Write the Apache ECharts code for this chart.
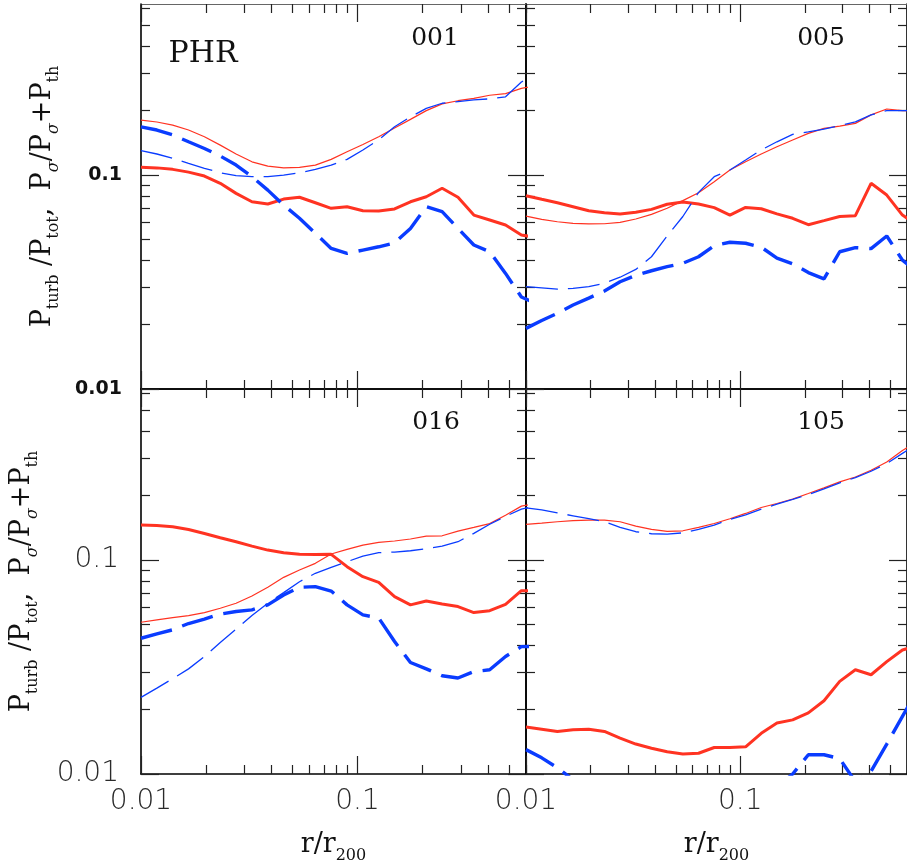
<!DOCTYPE html>
<html>
<head>
<meta charset="utf-8">
<script src="https://cdn.jsdelivr.net/npm/echarts@6/dist/echarts.min.js"></script>
<style>html,body{margin:0;padding:0;background:#fff}#c{width:907px;height:866px}</style>
</head>
<body>
<div id="c"></div>
<script>
// radial bins r/r200
const r = [0.0100,0.01184,0.01401,0.01658,0.01963,0.02323,0.02749,0.03254,0.03852,0.04559,0.05395,0.06386,0.07558,0.08947,0.1059,0.1253,0.1483,0.1756,0.2078,0.2459,0.2911,0.3445,0.4078,0.4827,0.5713,0.6761];

// panel 001
const thickRed001  = [0.1087,0.108,0.1063,0.1032,0.0989,0.0915,0.0821,0.075,0.0732,0.0772,0.0787,0.0742,0.0699,0.0711,0.0681,0.0679,0.0694,0.075,0.0792,0.0867,0.0787,0.065,0.0616,0.0584,0.0524,0.051];
const thinRed001   = [0.1807,0.177,0.171,0.1623,0.151,0.138,0.1254,0.1153,0.110,0.108,0.1087,0.1113,0.1184,0.1285,0.139,0.151,0.166,0.182,0.200,0.215,0.2225,0.228,0.236,0.240,0.254,0.262];
const thickBlue001 = [0.168,0.1623,0.154,0.143,0.133,0.1227,0.1113,0.0982,0.085,0.0724,0.0628,0.0534,0.0454,0.043,0.0446,0.0462,0.0482,0.0563,0.0711,0.0674,0.0563,0.0471,0.0438,0.0347,0.0269,0.025];
const thinBlue001  = [0.130,0.1254,0.1197,0.1134,0.1075,0.1025,0.0993,0.0982,0.0982,0.1,0.1025,0.1063,0.1113,0.1184,0.131,0.146,0.168,0.187,0.205,0.2165,0.2205,0.2245,0.227,0.232,0.272,0.30];

// panel 005
const thickRed005  = [0.080,0.077,0.0742,0.0711,0.0681,0.0667,0.0658,0.067,0.0691,0.073,0.0748,0.0732,0.0704,0.065,0.0706,0.0696,0.0658,0.0628,0.0586,0.0612,0.064,0.0646,0.0915,0.0806,0.065,0.058];
const thinRed005   = [0.0643,0.0621,0.0605,0.0595,0.0591,0.0592,0.0601,0.0623,0.0655,0.0699,0.0759,0.0827,0.093,0.1055,0.1153,0.1254,0.1355,0.1457,0.1566,0.1653,0.1694,0.1744,0.191,0.2035,0.200,0.200];
const thickBlue005 = [0.0192,0.0209,0.0226,0.0247,0.0266,0.0287,0.0317,0.034,0.0357,0.0373,0.0387,0.0415,0.0468,0.0485,0.048,0.046,0.0409,0.0385,0.035,0.0327,0.0438,0.0458,0.0453,0.0519,0.040,0.035];
const thinBlue005  = [0.0301,0.0297,0.0293,0.0295,0.0301,0.0312,0.0333,0.0362,0.0415,0.0519,0.064,0.083,0.0982,0.1055,0.1175,0.131,0.143,0.155,0.159,0.164,0.170,0.1773,0.191,0.200,0.200,0.200];

// panel 016
const thickRed016  = [0.1457,0.145,0.143,0.139,0.133,0.127,0.1218,0.1162,0.1113,0.1082,0.1063,0.106,0.1063,0.0931,0.0836,0.0787,0.0674,0.0617,0.0644,0.0623,0.0606,0.0568,0.058,0.0621,0.0719,0.072];
const thinRed016   = [0.0512,0.0525,0.0538,0.055,0.0568,0.0595,0.0628,0.0679,0.0746,0.083,0.0898,0.0965,0.1067,0.1122,0.1175,0.121,0.1227,0.1254,0.1294,0.1298,0.1366,0.142,0.148,0.162,0.1786,0.185];
const thickBlue016 = [0.0431,0.0452,0.0472,0.0505,0.053,0.0559,0.0575,0.0585,0.0617,0.0686,0.0746,0.0751,0.0716,0.0617,0.0554,0.0536,0.0416,0.0332,0.031,0.0288,0.0281,0.0301,0.0307,0.0354,0.0394,0.0395];
const thinBlue016  = [0.0228,0.0252,0.0279,0.031,0.0354,0.0412,0.0475,0.055,0.0628,0.0704,0.0792,0.0867,0.0925,0.0982,0.1044,0.1082,0.109,0.1105,0.1129,0.1162,0.1218,0.1332,0.147,0.160,0.173,0.18];

// panel 105
const thickRed105  = [0.01657,0.0162,0.0158,0.0161,0.0162,0.0158,0.0147,0.0138,0.0132,0.0127,0.0124,0.0125,0.0133,0.0133,0.0134,0.0155,0.0173,0.0179,0.0193,0.022,0.0271,0.0307,0.0291,0.0335,0.038,0.040];
const thinRed105   = [0.1467,0.1487,0.151,0.1527,0.1537,0.1537,0.151,0.1441,0.139,0.136,0.137,0.142,0.1482,0.156,0.1651,0.176,0.1837,0.1925,0.2045,0.2174,0.2319,0.2445,0.2627,0.2873,0.325,0.36];
const thickBlue105 = [0.0130,0.0119,0.0107,0.0094,0.0088,0.0084,0.0081,0.0079,0.0078,0.0078,0.0079,0.0080,0.0082,0.0084,0.0085,0.0086,0.0087,0.0100,0.0123,0.0123,0.0118,0.0092,0.0103,0.0138,0.0186,0.025];
const thinBlue105  = [0.1752,0.1716,0.166,0.161,0.156,0.151,0.142,0.1356,0.1327,0.1322,0.134,0.139,0.1457,0.155,0.1627,0.173,0.1824,0.1919,0.2024,0.2151,0.2294,0.2428,0.260,0.2825,0.315,0.35];

const panelNames = ['001','005','016','105'];
const majorTicks = [0.01, 0.1];
const minorTicks = [0.02,0.03,0.04,0.05,0.06,0.07,0.08,0.09,0.2,0.3,0.4,0.5,0.6];
const xLabels = [0.01, 0.1];
const yLabels = [0.01, 0.1];

const panels = [
  [thinRed001, thickRed001, thinBlue001, thickBlue001],
  [thinRed005, thickRed005, thinBlue005, thickBlue005],
  [thinRed016, thickRed016, thinBlue016, thickBlue016],
  [thinRed105, thickRed105, thinBlue105, thickBlue105]
];

const RED = '#ff3322', BLUE = '#0a3cff';
const styles = [
  {color: RED, width: 1.2, type: 'solid'},
  {color: RED, width: 3, type: 'solid'},
  {color: BLUE, width: 1.3, type: [32, 10]},
  {color: BLUE, width: 3.4, type: [32, 11]}
];

const grids = [
  {left: 141, top: 4, width: 385, height: 385},
  {left: 526, top: 4, width: 384, height: 385},
  {left: 141, top: 389, width: 385, height: 385},
  {left: 526, top: 389, width: 384, height: 385}
];

const fmt = v => String(+(+v).toPrecision(3));

const serif = 'DejaVu Serif';
const richY = {
  p: {fontFamily: serif, fontSize: 27, lineHeight: 33, verticalAlign: 'top', color: '#111'},
  s: {fontFamily: serif, fontSize: 16, verticalAlign: 'bottom', color: '#111'},
  g: {fontFamily: serif, fontSize: 16, fontStyle: 'italic', verticalAlign: 'bottom', color: '#111'}
};
const yName = '{p|P}{s|turb}{p| /P}{s|tot}{p|,  P}{g|σ}{p|/P}{g|σ}{p|+P}{s|th}';
const xName = '{p|r/r}{s|200}';

const xAxes = [], yAxes = [];
for (let g = 0; g < 4; g++) {
  const isBottom = g >= 2, isLeft = (g % 2) === 0;
  const base = {type: 'log', logBase: 10, gridIndex: g, min: 0.01, max: 0.6, splitLine: {show: false}, minorTick: {show: false}, minorSplitLine: {show: false}};
  xAxes.push(Object.assign({}, base, {
    position: 'bottom',
    axisLine: {show: true, onZero: false, lineStyle: {color: '#000', width: 1.6}},
    axisTick: {show: true, inside: true, length: 18, customValues: majorTicks, lineStyle: {color: '#222', width: 1.2}},
    axisLabel: isBottom ? {show: true, customValues: xLabels, formatter: fmt, fontFamily: 'DejaVu Sans', fontWeight: 300, fontSize: 28, color: '#2a2a2a', margin: 14} : {show: false},
    name: isBottom ? xName : '',
    nameLocation: 'middle', nameGap: 57,
    nameTextStyle: {rich: richY}
  }));
  xAxes.push(Object.assign({}, base, {
    position: 'bottom',
    axisLine: {show: false, onZero: false},
    axisTick: {show: true, inside: true, length: 9, customValues: minorTicks, lineStyle: {color: '#222', width: 1.2}},
    axisLabel: {show: false}
  }));
  xAxes.push(Object.assign({}, base, {
    position: 'top',
    axisLine: {show: true, onZero: false, lineStyle: {color: isBottom ? '#000' : '#666', width: isBottom ? 1.6 : 1.2}},
    axisTick: {show: true, inside: true, length: 18, customValues: majorTicks, lineStyle: {color: '#222', width: 1.2}},
    axisLabel: {show: false}
  }));
  xAxes.push(Object.assign({}, base, {
    position: 'top',
    axisLine: {show: false, onZero: false},
    axisTick: {show: true, inside: true, length: 9, customValues: minorTicks, lineStyle: {color: '#222', width: 1.2}},
    axisLabel: {show: false}
  }));

  const ybase = {type: 'log', logBase: 10, gridIndex: g, min: 0.01, max: 0.63, splitLine: {show: false}, minorTick: {show: false}, minorSplitLine: {show: false}};
  const yLab = !isLeft ? {show: false} : (g === 0
    ? {show: true, customValues: yLabels, formatter: fmt, fontFamily: 'DejaVu Sans', fontWeight: 'bold', fontSize: 19, color: '#111', margin: 19}
    : {show: true, customValues: yLabels, formatter: fmt, fontFamily: 'DejaVu Sans', fontWeight: 300, fontSize: 28, color: '#2a2a2a', margin: 22});
  yAxes.push(Object.assign({}, ybase, {
    position: 'left',
    axisLine: {show: true, onZero: false, lineStyle: {color: '#000', width: 1.6}},
    axisTick: {show: true, inside: true, length: 18, customValues: majorTicks, lineStyle: {color: '#222', width: 1.2}},
    axisLabel: yLab,
    name: isLeft ? yName : '',
    nameLocation: 'middle', nameRotate: 90, nameGap: g === 0 ? 79 : 100,
    nameTextStyle: {rich: richY}
  }));
  yAxes.push(Object.assign({}, ybase, {
    position: 'left',
    axisLine: {show: false, onZero: false},
    axisTick: {show: true, inside: true, length: 9, customValues: minorTicks, lineStyle: {color: '#222', width: 1.2}},
    axisLabel: {show: false}
  }));
  yAxes.push(Object.assign({}, ybase, {
    position: 'right',
    axisLine: {show: true, onZero: false, lineStyle: {color: '#000', width: 1.6}},
    axisTick: {show: true, inside: true, length: 18, customValues: majorTicks, lineStyle: {color: '#222', width: 1.2}},
    axisLabel: {show: false}
  }));
  yAxes.push(Object.assign({}, ybase, {
    position: 'right',
    axisLine: {show: false, onZero: false},
    axisTick: {show: true, inside: true, length: 9, customValues: minorTicks, lineStyle: {color: '#222', width: 1.2}},
    axisLabel: {show: false}
  }));
}

const series = [];
panels.forEach((arrs, g) => {
  arrs.forEach((vals, k) => {
    series.push({
      type: 'line',
      xAxisIndex: 4 * g,
      yAxisIndex: 4 * g,
      data: r.map((x, i) => [x, vals[i]]),
      showSymbol: false,
      symbol: 'none',
      clip: true,
      silent: true,
      z: 2 + k,
      lineStyle: styles[k]
    });
  });
});

const labelPos = [[435, 38], [821, 38], [436, 422], [821, 422]];
const graphics = [{
  type: 'text', x: 203, y: 54, z: 100,
  style: {text: 'PHR', fontFamily: serif, fontSize: 30, fill: '#111', align: 'center', verticalAlign: 'middle'}
}];
panelNames.forEach((n, i) => graphics.push({
  type: 'text', x: labelPos[i][0], y: labelPos[i][1], z: 100,
  style: {text: n, fontFamily: serif, fontSize: 25, fill: '#111', align: 'center', verticalAlign: 'middle'}
}));

const chart = echarts.init(document.getElementById('c'), null, {renderer: 'canvas'});
chart.setOption({
  animation: false,
  backgroundColor: '#fff',
  grid: grids,
  xAxis: xAxes,
  yAxis: yAxes,
  series: series,
  graphic: graphics
});
</script>
</body>
</html>
